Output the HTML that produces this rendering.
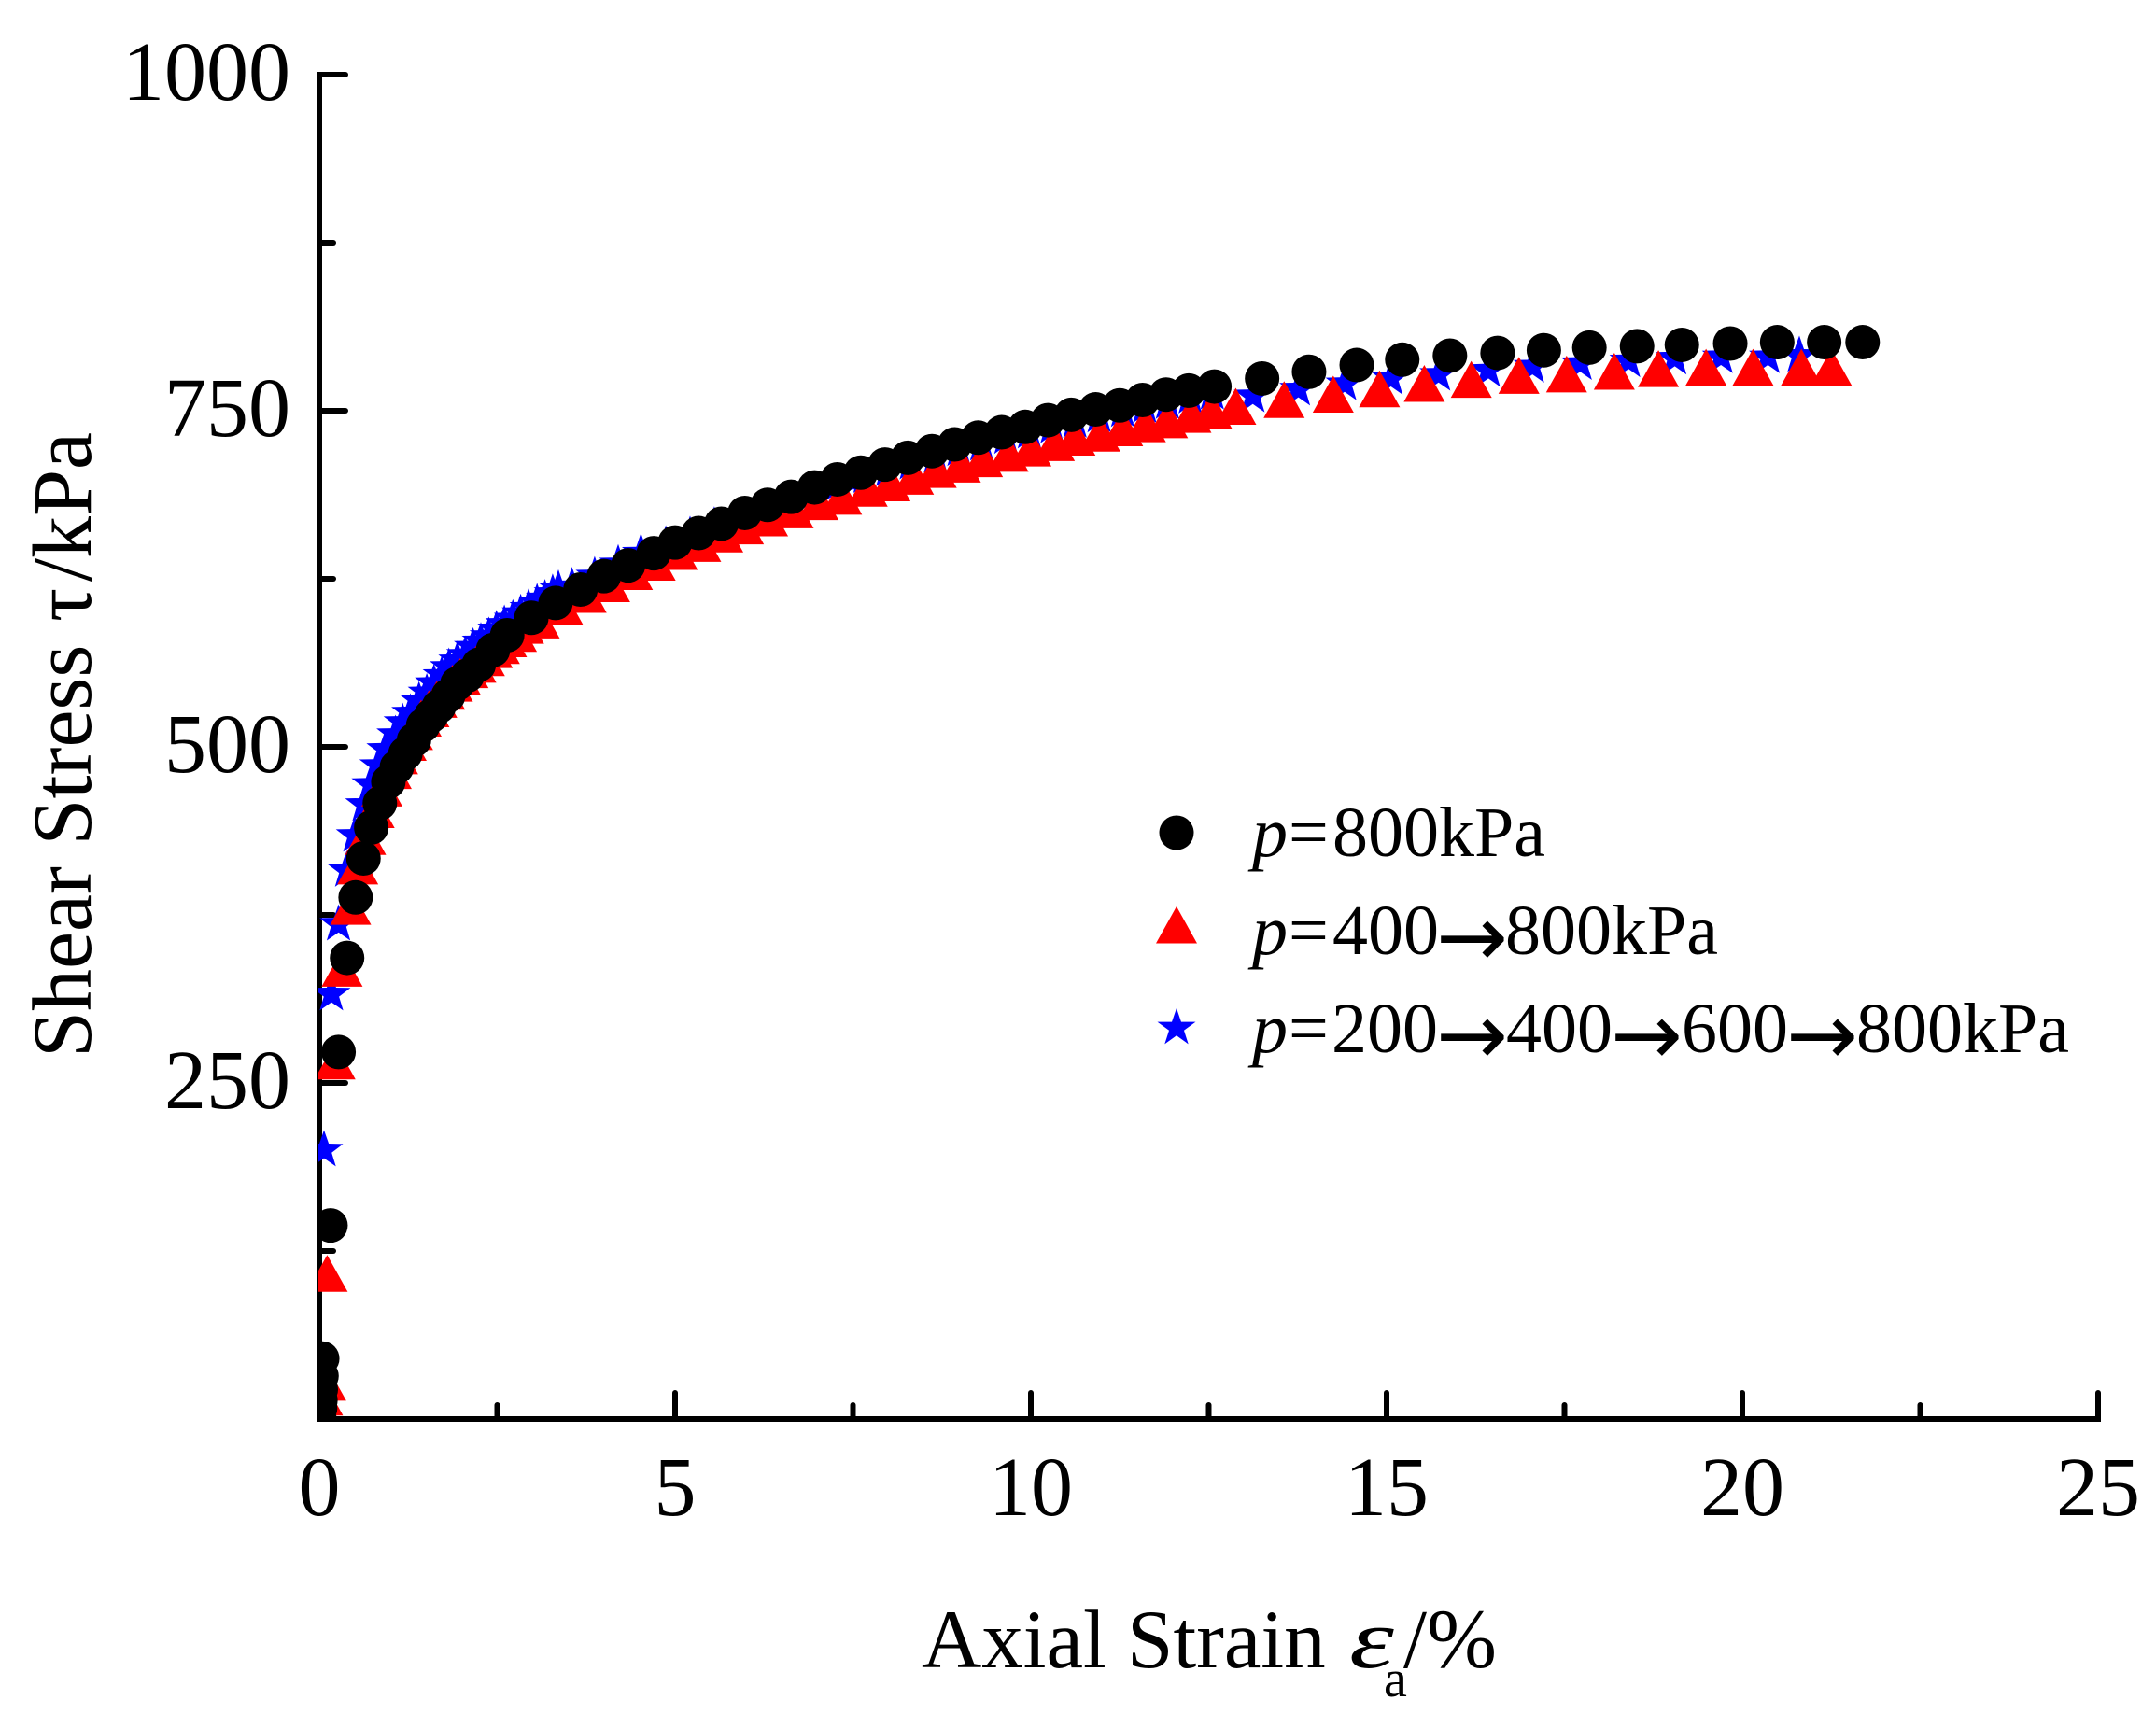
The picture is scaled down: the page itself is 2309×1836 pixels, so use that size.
<!DOCTYPE html>
<html lang="en">
<head>
<meta charset="utf-8">
<title>Shear Stress vs Axial Strain</title>
<style>
  html, body { margin: 0; padding: 0; background: #ffffff; }
  body { width: 2309px; height: 1836px; overflow: hidden; }
  svg { display: block; }
  text { font-family: "Liberation Serif", "DejaVu Serif", serif; fill: #000; }
  .arrow { font-family: "DejaVu Sans", sans-serif; font-size: 92px; }
</style>
</head>
<body>
<svg id="chart" xmlns="http://www.w3.org/2000/svg" width="2309" height="1836" viewBox="0 0 2309 1836">
  <defs>
    <clipPath id="plot-clip"><rect x="341" y="60" width="1912" height="1460"></rect></clipPath>
  </defs>
  <rect x="0" y="0" width="2309" height="1836" fill="#ffffff"></rect>
  <g id="axes"></g>
  <g id="marks" clip-path="url(#plot-clip)"></g>

  <text transform="translate(97,1133) rotate(-90)" font-size="90"><tspan x="0">Shear Stress</tspan><tspan x="467">τ</tspan><tspan x="510">/kPa</tspan></text>
  <text x="987" y="1786" font-size="89">Axial Strain</text>
  <text transform="translate(1445,1786) scale(1.35,1)" font-size="90" font-style="italic">ε</text>
  <text x="1482" y="1817" font-size="56">a</text>
  <text x="1503" y="1786" font-size="90">/%</text>

  <g id="legend">
    <circle cx="1260" cy="892" r="18.5" fill="#000"></circle>
    <text y="917" font-size="76"><tspan x="1341" font-style="italic">p</tspan><tspan x="1380">=</tspan><tspan x="1427">800kPa</tspan></text>
    <polygon points="1260,971 1282,1010.5 1238,1010.5" fill="#ff0000"></polygon>
    <text y="1022" font-size="76"><tspan x="1341" font-style="italic">p</tspan><tspan x="1380">=</tspan><tspan x="1427">400</tspan><tspan class="arrow" x="1538" y="1035">→</tspan><tspan x="1612" y="1022">800kPa</tspan></text>
    <polygon points="1260,1080 1265,1094.6 1280.5,1094.6 1268,1103.7 1272.7,1118.4 1260,1109.3 1247.3,1118.4 1252,1103.7 1239.5,1094.6 1255,1094.6" fill="#0000ff"></polygon>
    <text y="1127" font-size="76"><tspan x="1341" font-style="italic">p</tspan><tspan x="1380">=</tspan><tspan x="1426">200</tspan><tspan class="arrow" x="1538" y="1140">→</tspan><tspan x="1613" y="1127">400</tspan><tspan class="arrow" x="1725" y="1140">→</tspan><tspan x="1801" y="1127">600</tspan><tspan class="arrow" x="1913" y="1140">→</tspan><tspan x="1988" y="1127">800kPa</tspan></text>
  </g>
</svg>
<script>
// Axis ticks
const xMajorTicks = [0, 5, 10, 15, 20, 25];
const xMinorTicks = [2.5, 7.5, 12.5, 17.5, 22.5];
const yMajorTicks = [250, 500, 750, 1000];
const yMinorTicks = [125, 375, 625, 875];
const xTickLabels = ["0", "5", "10", "15", "20", "25"];
const yTickLabels = ["250", "500", "750", "1000"];

// Series p=800kPa
const blackStrain = [0, 0.01, 0.015, 0.02, 0.03, 0.04, 0.157, 0.27, 0.39, 0.51, 0.62, 0.73, 0.85, 0.97, 1.09, 1.21, 1.33, 1.46, 1.57, 1.68, 1.81, 1.94, 2.08, 2.24, 2.44, 2.64, 2.98, 3.32, 3.67, 4.0, 4.34, 4.7, 5.0, 5.33, 5.65, 5.98, 6.3, 6.63, 6.96, 7.28, 7.61, 7.95, 8.27, 8.61, 8.93, 9.26, 9.59, 9.92, 10.24, 10.57, 10.91, 11.25, 11.57, 11.9, 12.22, 12.58, 13.25, 13.91, 14.58, 15.22, 15.89, 16.56, 17.21, 17.85, 18.52, 19.15, 19.83, 20.49, 21.15, 21.69];
const blackStress = [0, 8, 14, 22, 32, 45, 144, 273, 343, 388, 417, 440, 458, 474, 485, 495, 505, 516, 523, 530, 538, 547, 553, 561, 572, 583, 596, 607, 617, 627, 635, 644, 652, 659, 666, 674, 680, 686, 693, 699, 704, 710, 715, 720, 725, 730, 734, 738, 743, 747, 751, 754, 758, 762, 765, 768, 774, 779, 784, 788, 791, 793, 795, 797, 798, 799, 800, 801, 801, 801];

// Series p=400→800kPa
const redStrain = [0.045, 0.09, 0.11, 0.22, 0.32, 0.44, 0.54, 0.65, 0.77, 0.88, 1.01, 1.1, 1.22, 1.31, 1.43, 1.54, 1.65, 1.76, 1.87, 1.98, 2.09, 2.2, 2.32, 2.43, 2.53, 2.63, 2.77, 2.87, 3.09, 3.42, 3.75, 4.08, 4.4, 4.72, 5.03, 5.36, 5.67, 5.96, 6.3, 6.66, 7.01, 7.34, 7.7, 8.02, 8.35, 8.67, 9.01, 9.32, 9.68, 10.0, 10.33, 10.62, 10.97, 11.29, 11.61, 11.92, 12.25, 12.54, 12.88, 13.56, 14.25, 14.9, 15.53, 16.19, 16.86, 17.53, 18.2, 18.82, 19.49, 20.15, 20.83, 21.25];
const redStress = [12, 23, 104, 262, 331, 377, 407, 429, 449, 465, 478, 489, 499, 507, 517, 524, 531, 537, 543, 548, 553, 557, 562, 568, 571, 576, 580, 586, 590, 600, 609, 617, 626, 633, 641, 647, 654, 660, 666, 672, 678, 682, 688, 692, 697, 702, 706, 710, 714, 718, 722, 726, 729, 733, 736, 739, 743, 746, 749, 754, 758, 762, 766, 769, 772, 773, 775, 777, 778, 778, 778, 778];

// Series p=200→400→600→800kPa
const blueStrain = [0.066, 0.17, 0.27, 0.385, 0.5, 0.63, 0.72, 0.83, 0.93, 1.07, 1.17, 1.28, 1.4, 1.51, 1.61, 1.72, 1.82, 1.94, 2.05, 2.16, 2.27, 2.38, 2.49, 2.6, 2.72, 2.83, 2.94, 3.06, 3.17, 3.28, 3.36, 3.55, 3.87, 4.2, 4.52, 4.87, 5.21, 5.55, 5.88, 6.21, 6.54, 6.87, 7.2, 7.5, 7.67, 7.99, 8.32, 8.66, 8.99, 9.31, 9.65, 9.98, 10.3, 10.62, 10.96, 11.29, 11.6, 11.92, 12.24, 12.55, 13.12, 13.76, 14.41, 15.06, 15.73, 16.43, 17.05, 17.72, 18.4, 19.05, 19.7, 20.36, 20.8];
const blueStress = [200, 316, 368, 408, 434, 457, 472, 486, 498, 509, 518, 525, 534, 540, 547, 553, 559, 564, 568, 574, 578, 582, 587, 591, 595, 599, 603, 607, 610, 614, 617, 619, 627, 636, 644, 650, 657, 664, 668, 674, 680, 686, 692, 698, 701, 706, 711, 716, 721, 725, 730, 734, 738, 742, 746, 750, 753, 756, 760, 763, 761, 766, 770, 774, 777, 780, 783, 785, 787, 789, 790, 790, 791];

const X0 = 342, XPERUNIT = 76.2, Y0 = 1520, YPERUNIT = 1.44;
function xScale(v) { return X0 + v * XPERUNIT; }
function yScale(v) { return Y0 - v * YPERUNIT; }

const NS = "http://www.w3.org/2000/svg";
const axesG = document.getElementById("axes");
const marksG = document.getElementById("marks");

function makeLine(x1, y1, x2, y2, cap) {
  const l = document.createElementNS(NS, "line");
  l.setAttribute("x1", x1);
  l.setAttribute("y1", y1);
  l.setAttribute("x2", x2);
  l.setAttribute("y2", y2);
  l.setAttribute("stroke", "#000");
  l.setAttribute("stroke-width", "6");
  l.setAttribute("stroke-linecap", cap);
  axesG.appendChild(l);
  return l;
}

const xAxisLine = makeLine(xScale(0), yScale(0), xScale(25), yScale(0), "square");


const yAxisLine = makeLine(xScale(0), yScale(0), xScale(0), yScale(1000), "square");



xMajorTicks.forEach(function (t, i) {
  const tick = makeLine(xScale(t), yScale(0), xScale(t), yScale(0) - 28, "round");
  
  
  const label = document.createElementNS(NS, "text");
  label.setAttribute("x", xScale(t));
  label.setAttribute("y", 1623);
  label.setAttribute("font-size", "90");
  label.setAttribute("text-anchor", "middle");
  label.textContent = xTickLabels[i];
  
  
  axesG.appendChild(label);
});
xMinorTicks.forEach(function (t) {
  const tick = makeLine(xScale(t), yScale(0), xScale(t), yScale(0) - 15, "round");
  
  
});
yMajorTicks.forEach(function (t, i) {
  const tick = makeLine(xScale(0), yScale(t), xScale(0) + 28, yScale(t), "round");
  
  
  const label = document.createElementNS(NS, "text");
  label.setAttribute("x", 311);
  label.setAttribute("y", yScale(t) + 27);
  label.setAttribute("font-size", "90");
  label.setAttribute("text-anchor", "end");
  label.textContent = yTickLabels[i];
  
  
  axesG.appendChild(label);
});
yMinorTicks.forEach(function (t) {
  const tick = makeLine(xScale(0), yScale(t), xScale(0) + 15, yScale(t), "round");
  
  
});

function starPoints(cx, cy) {
  const R = 21.5, r = 8.6, pts = [];
  for (let i = 0; i < 10; i++) {
    const rad = i % 2 === 0 ? R : r;
    const a = -Math.PI / 2 + i * Math.PI / 5;
    pts.push((cx + rad * Math.cos(a)).toFixed(1) + "," + (cy + rad * Math.sin(a)).toFixed(1));
  }
  return pts.join(" ");
}
function trianglePoints(cx, cy) {
  return cx + "," + (cy - 26) + " " + (cx + 22) + "," + (cy + 13.5) + " " + (cx - 22) + "," + (cy + 13.5);
}

blueStrain.forEach(function (x, i) {
  const el = document.createElementNS(NS, "polygon");
  el.setAttribute("points", starPoints(xScale(x), yScale(blueStress[i])));
  el.setAttribute("fill", "#0000ff");
  
  
  marksG.appendChild(el);
});
redStrain.forEach(function (x, i) {
  const el = document.createElementNS(NS, "polygon");
  el.setAttribute("points", trianglePoints(xScale(x), yScale(redStress[i])));
  el.setAttribute("fill", "#ff0000");
  
  
  marksG.appendChild(el);
});
blackStrain.forEach(function (x, i) {
  const el = document.createElementNS(NS, "circle");
  el.setAttribute("cx", xScale(x));
  el.setAttribute("cy", yScale(blackStress[i]));
  el.setAttribute("r", "18.5");
  el.setAttribute("fill", "#000");
  
  
  marksG.appendChild(el);
});
</script>
</body>
</html>
